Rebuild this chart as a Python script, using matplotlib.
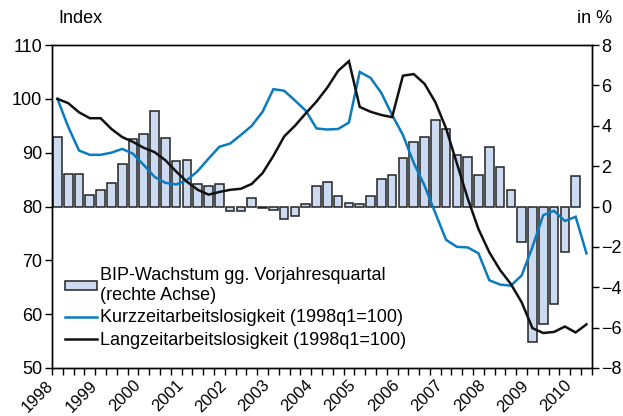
import numpy as np
import matplotlib
matplotlib.use('Agg')
import matplotlib.pyplot as plt
from matplotlib.patches import Patch
from matplotlib.lines import Line2D
from matplotlib.transforms import ScaledTranslation

plt.rcParams['font.family'] = ['Liberation Sans', 'DejaVu Sans']

# quarterly series, 1998q1 .. 2010q2
years = [str(y) for y in range(1998, 2011)]

bip_growth = [3.45, 1.62, 1.62, 0.59, 0.81, 1.14, 2.13, 3.32, 3.61, 4.72,
              3.4, 2.23, 2.29, 1.09, 1.04, 1.09, -0.2, -0.2, 0.43, -0.05,
              -0.15, -0.6, -0.45, 0.1, 1.04, 1.2, 0.51, 0.15, 0.1, 0.54,
              1.36, 1.55, 2.38, 3.2, 3.43, 4.27, 3.85, 2.54, 2.44, 1.55,
              2.94, 1.96, 0.8, -1.77, -6.72, -5.8, -4.85, -2.26, 1.5]

kurzzeit = [100, 94.8, 90.4, 89.6, 89.6, 90.0, 90.7, 89.8, 87.7, 85.5,
            84.4, 84.1, 84.9, 86.6, 88.9, 91.1, 91.7, 93.3, 95.0, 97.6,
            101.8, 101.5, 99.7, 97.8, 94.5, 94.3, 94.4, 95.6, 105.0, 103.9,
            101.1, 97.0, 93.3, 88.1, 83.9, 78.8, 73.8, 72.5, 72.4, 71.3,
            66.3, 65.5, 65.3, 67.2, 72.5, 78.4, 79.2, 77.3, 78.1, 71.3]

langzeit = [100, 99.2, 97.5, 96.4, 96.4, 94.4, 92.9, 92.0, 90.9, 90.1,
            88.6, 86.5, 84.6, 83.1, 82.2, 82.7, 83.1, 83.3, 84.2, 86.2,
            89.4, 93.0, 95.0, 97.3, 99.5, 102.1, 105.2, 107.0, 98.5, 97.6,
            97.0, 96.6, 104.3, 104.6, 102.8, 99.4, 94.5, 88.0, 81.5, 75.8,
            71.5, 68.2, 65.6, 62.2, 57.4, 56.5, 56.7, 57.7, 56.6, 58.1]

n_q = len(kurzzeit)
bar_color = '#cddbf2'
blue = '#0a7bbf'
fs = 13

fig = plt.figure(figsize=(6.23, 4.16), dpi=100)
# bars on the primary axes (right scale), lines on the twin (left scale) so they sit on top
ax = fig.add_axes([0.0835, 0.1154, 0.8665, 0.7764])
ax.bar(np.arange(len(bip_growth)), bip_growth, width=0.8, color=bar_color,
       edgecolor='#222222', linewidth=1.1)
ax.set_ylim(-8, 8)
ax.set_yticks(range(-8, 9, 2))
ax.set_xlim(-0.5, n_q - 0.5)

ax2 = ax.twinx()
ax2.plot(range(n_q), kurzzeit, color=blue, lw=1.8, solid_joinstyle='miter')
ax2.plot(range(n_q), langzeit, color='#111111', lw=1.8, solid_joinstyle='miter')
ax2.set_ylim(50, 110)
ax2.set_yticks(range(50, 111, 10))
ax2.set_xlim(-0.5, n_q - 0.5)

# swap sides: percent scale right, index scale left
ax.tick_params(axis='y', left=False, labelleft=False, right=True, labelright=True)
ax2.tick_params(axis='y', right=False, labelright=False, left=True, labelleft=True)

for a in (ax, ax2):
    for s in a.spines.values():
        s.set_linewidth(1.0)
    a.tick_params(axis='y', length=5, width=1.0, labelsize=fs, pad=2)

# tick on every quarter boundary, year label every fourth
bounds = np.arange(n_q + 1) - 0.5
labels = [years[i // 4] if i % 4 == 0 and i // 4 < len(years) else '' for i in range(n_q + 1)]
ax.set_xticks(bounds)
ax.set_xticklabels(labels, rotation=45, ha='right', va='top', rotation_mode='anchor')
ax.tick_params(axis='x', length=5, width=1.0, labelsize=12, pad=2)
shift = ScaledTranslation(-0.06, 0, fig.dpi_scale_trans)
for lab in ax.get_xticklabels():
    lab.set_transform(lab.get_transform() + shift)

fig.text(0.093, 0.955, 'Index', fontsize=fs, va='center', ha='left')
fig.text(0.982, 0.955, 'in %', fontsize=fs, va='center', ha='right')

handles = [Patch(facecolor=bar_color, edgecolor='#222222', linewidth=1.1),
           Line2D([], [], color=blue, lw=1.8),
           Line2D([], [], color='#111111', lw=1.8)]
names = ['BIP-Wachstum gg. Vorjahresquartal\n(rechte Achse)',
         'Kurzzeitarbeitslosigkeit (1998q1=100)',
         'Langzeitarbeitslosigkeit (1998q1=100)']
ax2.legend(handles, names, loc='lower left', bbox_to_anchor=(0.024, 0.06),
           borderaxespad=0, borderpad=0, frameon=False, fontsize=fs,
           handlelength=1.8, handleheight=0.4, handletextpad=0.15,
           labelspacing=0.3)

fig.savefig('out.png', dpi=100)
